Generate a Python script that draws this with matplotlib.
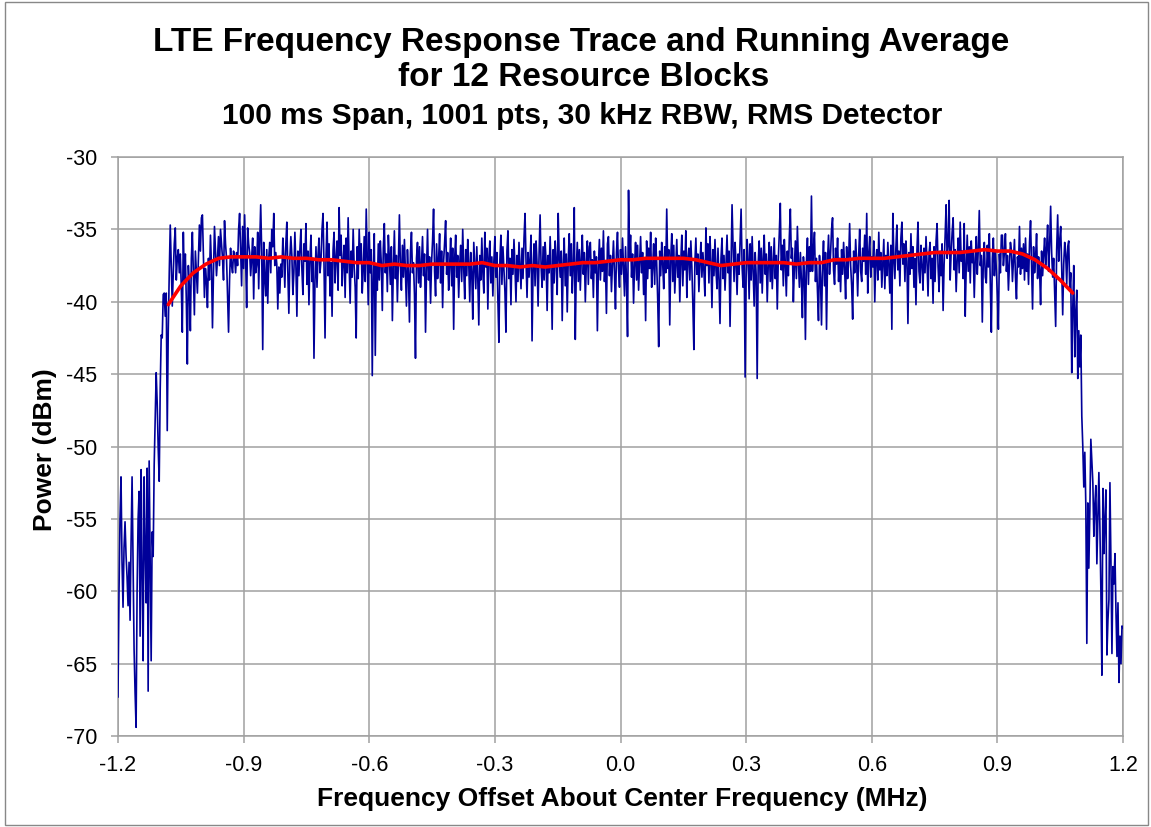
import numpy as np
import matplotlib
matplotlib.use("Agg")
import matplotlib.pyplot as plt
from matplotlib.patches import Rectangle

plt.rcParams['font.family'] = ['Liberation Sans', 'DejaVu Sans']

# Measured trace, 1001 points across the span (dBm)
trace_dbm = [
    -67.3, -60.0, -55.0, -52.1, -58.0, -61.1, -57.0, -55.2, -57.5, -59.0, -61.0, -58.0, -62.0, -56.7, -52.1, -58.0, -64.0, -67.0, -69.4, -60.0,
    -55.0, -53.1, -63.1, -51.6, -59.0, -64.8, -52.1, -57.0, -60.8, -51.5, -66.9, -51.0, -58.0, -64.8, -55.9, -57.6, -51.3, -48.2, -44.9, -47.0,
    -50.1, -52.4, -46.0, -42.3, -42.5, -39.5, -39.4, -41.0, -39.4, -48.9, -42.0, -38.0, -34.7, -37.5, -40.3, -38.0, -36.0, -34.9, -38.5, -37.0,
    -36.4, -38.0, -36.7, -39.0, -42.1, -35.2, -38.5, -36.7, -40.0, -44.3, -37.5, -39.0, -42.0, -37.0, -35.2, -38.0, -40.9, -36.5, -38.0, -39.4,
    -37.0, -34.7, -36.5, -34.2, -34.0, -37.0, -39.7, -37.7, -38.5, -40.4, -37.0, -38.5, -35.4, -37.5, -41.8, -38.0, -34.8, -36.5, -38.2, -37.0,
    -35.5, -37.5, -35.0, -36.0, -37.0, -38.5, -34.4, -36.0, -37.0, -39.5, -42.1, -38.5, -36.3, -37.5, -38.0, -36.5, -36.9, -38.0, -36.6, -37.5,
    -35.0, -33.9, -36.5, -38.9, -34.8, -37.7, -34.0, -37.0, -40.4, -34.9, -36.0, -36.6, -38.2, -37.0, -35.6, -39.8, -36.2, -38.0, -37.4, -35.2,
    -39.1, -36.0, -33.3, -36.6, -43.3, -35.9, -38.4, -39.6, -36.4, -40.1, -37.0, -35.9, -38.0, -35.0, -36.2, -33.9, -37.5, -36.6, -37.4, -40.5,
    -37.6, -39.4, -37.4, -38.3, -35.6, -37.0, -39.0, -36.0, -34.5, -38.0, -40.8, -37.0, -35.5, -36.8, -39.5, -38.0, -35.2, -37.5, -41.0, -36.5,
    -38.2, -36.4, -35.0, -37.8, -39.5, -36.0, -37.2, -34.6, -38.8, -36.5, -40.2, -37.0, -35.4, -38.6, -37.0, -43.9, -38.5, -36.2, -39.0, -36.8,
    -35.6, -38.0, -37.1, -35.0, -33.9, -37.5, -42.5, -36.8, -34.5, -38.2, -36.0, -39.6, -37.3, -41.0, -36.4, -35.2, -38.7, -37.0, -35.8, -39.2,
    -33.5, -36.8, -35.4, -38.9, -37.2, -36.1, -39.7, -35.6, -38.0, -34.2, -37.4, -40.1, -36.5, -38.3, -35.0, -37.6, -39.0, -42.5, -36.2, -38.4,
    -35.0, -37.3, -36.0, -39.4, -37.8, -35.5, -38.6, -33.6, -36.9, -40.2, -35.2, -38.0, -36.4, -45.1, -38.2, -35.3, -43.7, -37.5, -39.2, -36.0,
    -38.5, -35.8, -37.4, -40.6, -36.3, -34.6, -38.0, -36.7, -39.3, -35.4, -37.0, -38.8, -36.2, -41.3, -37.6, -35.1, -38.4, -36.8, -40.0, -37.2,
    -34.0, -37.5, -39.2, -36.1, -38.3, -35.7, -37.9, -40.3, -36.4, -38.1, -41.4, -36.6, -35.2, -38.0, -37.3, -39.5, -43.9, -37.0, -35.9, -38.7,
    -36.2, -39.0, -37.4, -35.5, -38.2, -36.7, -42.1, -37.8, -35.0, -38.5, -36.9, -40.1, -37.3, -35.8, -33.6, -37.9, -39.6, -36.0, -38.4, -37.1,
    -35.3, -38.7, -36.5, -40.4, -37.2, -35.9, -34.4, -38.1, -36.6, -39.2, -37.5, -35.6, -38.9, -36.3, -41.9, -37.0, -35.4, -38.3, -36.8, -39.7,
    -37.4, -36.1, -38.6, -35.0, -37.7, -39.8, -36.4, -38.2, -35.7, -37.3, -40.0, -36.6, -38.0, -41.2, -35.9, -37.5, -39.1, -36.2, -38.4, -41.6,
    -36.8, -38.5, -35.6, -37.9, -39.4, -35.2, -37.6, -36.3, -40.5, -37.0, -35.8, -38.7, -36.9, -39.6, -37.2, -35.5, -38.3, -36.6, -39.9, -42.8,
    -37.1, -35.4, -38.8, -36.2, -37.7, -39.3, -42.1, -36.5, -35.1, -38.4, -37.0, -40.2, -36.4, -38.1, -35.7, -37.6, -40.0, -36.8, -38.6, -35.9,
    -37.5, -39.1, -36.3, -38.4, -35.6, -33.9, -37.2, -39.7, -36.6, -38.3, -37.0, -35.4, -42.7, -37.8, -36.0, -38.9, -35.8, -37.4, -40.3, -36.7,
    -34.0, -37.6, -39.0, -36.2, -38.5, -35.9, -37.3, -40.6, -36.8, -38.0, -35.5, -37.9, -41.9, -36.4, -38.7, -35.8, -37.2, -39.5, -33.9, -37.0,
    -38.3, -36.5, -41.3, -37.4, -35.6, -38.9, -36.7, -40.7, -37.1, -35.3, -38.2, -36.0, -39.4, -37.5, -33.5, -42.6, -37.8, -35.9, -38.6, -36.4,
    -39.2, -37.0, -35.4, -38.1, -36.6, -40.0, -37.3, -35.8, -38.8, -36.2, -35.9, -38.4, -37.1, -39.7, -36.5, -38.0, -36.9, -42.0, -37.6, -35.7,
    -38.5, -36.3, -37.9, -35.1, -38.6, -37.2, -40.8, -36.0, -35.5, -38.2, -36.8, -39.3, -37.4, -35.8, -38.0, -40.5, -36.6, -35.2, -37.7, -39.0,
    -36.4, -38.1, -35.6, -37.5, -39.6, -36.2, -38.7, -42.4, -32.3, -37.0, -35.4, -38.3, -36.7, -40.1, -37.4, -35.9, -38.5, -36.1, -39.2, -37.3,
    -35.5, -38.0, -36.6, -39.5, -37.1, -41.3, -35.8, -38.4, -36.3, -37.7, -35.2, -39.0, -37.6, -36.0, -38.8, -35.6, -37.3, -39.8, -43.1, -36.5,
    -38.2, -35.9, -37.4, -39.1, -36.2, -38.0, -33.6, -37.7, -36.4, -41.6, -37.0, -35.3, -38.6, -36.1, -39.4, -37.5, -35.7, -38.3, -36.8, -40.0,
    -37.2, -35.4, -38.9, -36.5, -37.8, -35.1, -39.7, -37.0, -36.3, -38.5, -35.8, -37.6, -40.2, -43.3, -37.3, -35.6, -38.1, -36.7, -39.3, -37.4,
    -35.9, -38.3, -36.6, -37.9, -39.6, -34.9, -37.5, -36.0, -38.7, -35.5, -37.2, -40.4, -36.4, -38.2, -35.7, -37.8, -39.1, -36.3, -38.5, -41.5,
    -37.0, -35.6, -38.4, -36.8, -39.2, -37.3, -35.4, -38.0, -36.5, -41.7, -37.7, -33.3, -36.2, -38.6, -35.9, -37.4, -39.5, -36.7, -38.1, -35.8,
    -33.6, -37.6, -39.0, -36.4, -45.2, -38.3, -35.7, -37.1, -39.8, -36.0, -38.5, -35.5, -37.9, -40.3, -36.6, -38.2, -45.3, -37.4, -35.8, -38.7,
    -36.3, -39.4, -37.0, -35.4, -38.1, -36.7, -40.0, -37.5, -35.9, -38.6, -36.2, -39.1, -37.3, -35.6, -38.4, -36.8, -40.5, -37.1, -35.3, -33.2,
    -37.8, -36.1, -38.9, -35.7, -37.4, -39.6, -36.5, -38.2, -35.5, -33.6, -37.0, -36.3, -40.0, -37.6, -35.8, -38.4, -34.8, -37.2, -39.0, -36.6,
    -38.5, -41.1, -36.9, -38.0, -42.6, -37.3, -35.6, -38.8, -36.2, -37.9, -32.7, -37.9, -36.4, -35.2, -38.6, -37.0, -39.3, -41.3, -36.8, -38.3,
    -41.6, -37.5, -35.8, -38.9, -36.6, -41.9, -37.2, -35.4, -38.1, -36.7, -35.0, -34.2, -37.8, -38.8, -36.3, -37.4, -35.6, -38.6, -37.0, -39.3,
    -36.4, -38.1, -35.9, -37.7, -39.8, -36.2, -38.4, -37.1, -34.6, -37.5, -38.9, -41.2, -36.5, -38.0, -35.7, -37.3, -39.6, -36.8, -35.0, -37.9,
    -38.6, -36.3, -37.2, -35.4, -38.1, -33.9, -39.4, -36.7, -35.5, -38.3, -36.9, -37.6, -35.8, -40.0, -37.1, -36.4, -38.5, -35.2, -37.8, -36.6,
    -39.0, -37.3, -35.7, -39.1, -36.8, -38.2, -35.9, -37.5, -39.4, -36.1, -41.9, -33.9, -37.0, -38.4, -36.3, -34.7, -37.8, -36.5, -38.9, -35.6,
    -34.5, -37.4, -36.0, -38.6, -35.8, -37.2, -41.5, -36.6, -38.1, -35.3, -37.7, -36.2, -39.0, -37.0, -40.2, -36.4, -34.5, -37.9, -38.7, -36.1,
    -37.5, -39.2, -36.3, -38.0, -35.5, -37.3, -39.6, -36.7, -35.9, -38.4, -37.0, -40.1, -36.2, -38.6, -35.8, -34.6, -37.6, -39.3, -36.5, -38.2,
    -36.0, -40.6, -37.4, -35.5, -33.3, -37.0, -36.1, -33.0, -38.5, -36.6, -35.2, -34.2, -37.8, -36.4, -39.3, -37.1, -35.6, -38.0, -34.5, -37.2,
    -36.5, -38.4, -34.6, -41.0, -37.6, -35.4, -37.9, -36.2, -38.7, -35.8, -37.3, -36.6, -39.7, -37.0, -35.5, -38.1, -36.4, -33.7, -37.5, -36.8,
    -41.4, -37.2, -35.9, -38.3, -38.7, -36.1, -37.6, -35.3, -38.9, -42.1, -37.0, -35.6, -38.2, -36.5, -37.8, -39.6, -41.9, -36.7, -38.0, -35.4,
    -35.4, -37.5, -36.6, -35.3, -37.9, -36.8, -39.2, -37.4, -35.9, -36.5, -38.6, -37.1, -35.7, -38.3, -39.8, -36.9, -37.6, -34.8, -38.1, -36.3,
    -37.7, -36.0, -38.5, -35.6, -37.9, -36.7, -38.8, -35.9, -34.4, -37.3, -40.5, -36.2, -38.0, -37.0, -35.3, -38.4, -36.9, -37.8, -40.2, -36.5,
    -38.2, -36.8, -35.6, -37.5, -36.3, -34.7, -37.9, -36.1, -33.4, -36.6, -38.3, -37.0, -39.4, -41.7, -36.4, -34.0, -37.2, -35.8, -34.8, -37.6,
    -40.9, -37.4, -35.9, -36.7, -38.8, -36.2, -35.8, -39.2, -38.0, -44.9, -40.5, -37.5, -43.8, -40.8, -39.2, -45.3, -42.0, -44.5, -42.3, -47.9,
    -50.0, -52.8, -50.4, -54.0, -63.6, -53.9, -58.4, -54.5, -49.5, -51.0, -52.5, -56.2, -54.0, -52.7, -58.1, -55.0, -51.8, -55.5, -60.0, -65.8,
    -52.9, -57.4, -55.0, -53.0, -64.4, -62.0, -60.6, -52.5, -58.0, -64.3, -58.3, -59.5, -57.4, -61.4, -64.5, -60.8, -66.3, -63.1, -65.0, -62.4,
    -62.5,
]

# Running average over the occupied band (dBm), every 0.03 MHz from -1.08 to 1.08
running_avg_dbm = [
    -40.2, -38.9, -38.0, -37.4, -37.0, -36.9, -36.9, -36.9, -37.0, -36.9,
    -37.0, -37.0, -37.1, -37.1, -37.2, -37.3, -37.3, -37.5, -37.4, -37.5,
    -37.5, -37.4, -37.4, -37.4, -37.4, -37.3, -37.5, -37.5, -37.6, -37.5,
    -37.6, -37.5, -37.4, -37.3, -37.3, -37.2, -37.1, -37.1, -37.0, -37.0,
    -37.0, -37.0, -37.1, -37.3, -37.5, -37.4, -37.3, -37.3, -37.3, -37.3,
    -37.4, -37.3, -37.3, -37.1, -37.1, -37.0, -37.0, -37.0, -36.9, -36.8,
    -36.7, -36.6, -36.6, -36.6, -36.5, -36.4, -36.5, -36.5, -36.7, -37.1,
    -37.7, -38.5, -39.4,
]

x_ticks = [-1.2, -0.9, -0.6, -0.3, 0.0, 0.3, 0.6, 0.9, 1.2]
y_ticks = [-70, -65, -60, -55, -50, -45, -40, -35, -30]

freq_mhz = np.linspace(-1.2, 1.2, len(trace_dbm))
avg_freq_mhz = np.linspace(-1.08, 1.08, len(running_avg_dbm))

fig = plt.figure(figsize=(11.51, 8.27), dpi=100)
ax = fig.add_axes([118 / 1151, 1 - 736 / 827, 1005 / 1151, 579 / 827])

grid_col = '#a0a0a0'
ax.plot(freq_mhz, trace_dbm, color='#000099', lw=1.2, zorder=3)
ax.plot(avg_freq_mhz, running_avg_dbm, color='#ff0000', lw=2.6, zorder=4,
        solid_capstyle='round', solid_joinstyle='round')

ax.set_xlim(-1.2, 1.2)
ax.set_ylim(-70, -30)
ax.set_xticks(x_ticks)
ax.set_yticks(y_ticks)
ax.set_xticklabels([f"{v:.1f}" for v in x_ticks])
ax.set_yticklabels([f"{v:d}" for v in y_ticks])
ax.grid(True, color=grid_col, lw=1.1, zorder=0)
ax.set_axisbelow(True)
for s in ax.spines.values():
    s.set_color(grid_col)
    s.set_linewidth(1.1)
ax.tick_params(axis='both', direction='out', length=5, width=1.1, color=grid_col,
               labelsize=15.5, labelcolor='black')
ax.tick_params(axis='y', pad=10)
ax.tick_params(axis='x', pad=9)

ax.set_xlabel("Frequency Offset About Center Frequency (MHz)", fontsize=19, fontweight='bold')
ax.xaxis.label.set_va('center')
ax.xaxis.set_label_coords(0.502, -0.108)
ax.set_ylabel("Power (dBm)", fontsize=19, fontweight='bold')
ax.yaxis.label.set_va('center')
ax.yaxis.set_label_coords(-0.073, 0.495)

fig.text(0.505, 1 - 42 / 827, "LTE Frequency Response Trace and Running Average",
         ha='center', va='center', fontsize=24, fontweight='bold')
fig.text(0.507, 1 - 77 / 827, "for 12 Resource Blocks",
         ha='center', va='center', fontsize=24, fontweight='bold')
fig.text(0.506, 1 - 116 / 827, "100 ms Span, 1001 pts, 30 kHz RBW, RMS Detector",
         ha='center', va='center', fontsize=21.5, fontweight='bold')

fig.patches.append(Rectangle((0.004, 0.002), 0.993, 0.996, transform=fig.transFigure,
                             fill=False, edgecolor='#888888', lw=1.0))

fig.savefig("out.png", dpi=100)
